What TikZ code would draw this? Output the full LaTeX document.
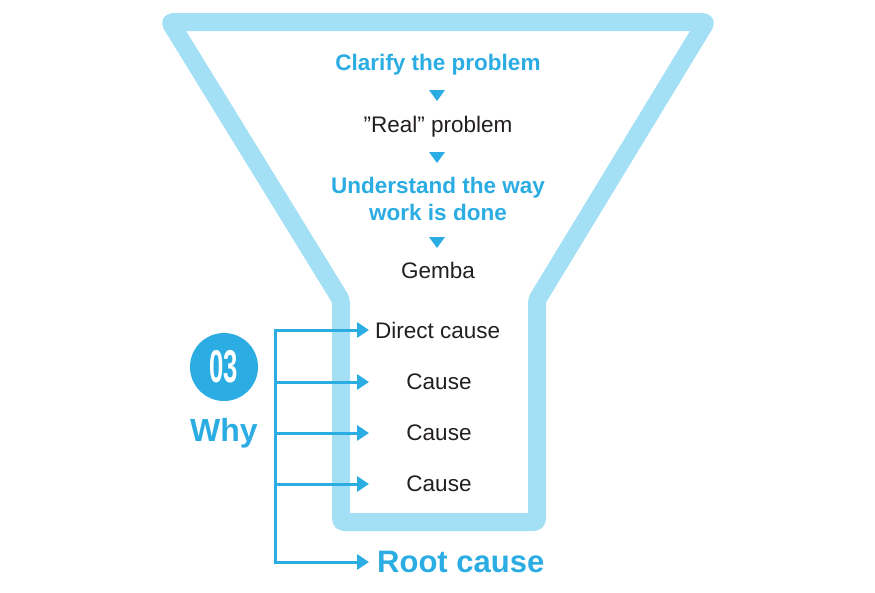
\documentclass[tikz,border=0pt]{standalone}
\usepackage{fontspec}
\usepackage{graphicx}
\setmainfont{Liberation Sans}
\usetikzlibrary{arrows.meta}
\definecolor{funnelblue}{HTML}{A3E0F6}
\definecolor{txtblue}{HTML}{2BACE2}
\definecolor{txtdark}{HTML}{231F20}
\tikzset{
  funnel/.style={draw=funnelblue, line width=18pt, line join=round, rounded corners=3pt},
  bluetxt/.style={text=txtblue, font=\fontsize{22.5}{27}\selectfont\bfseries, align=center, inner sep=0pt},
  darktxt/.style={text=txtdark, font=\fontsize{22.5}{27}\selectfont, inner sep=0pt},
  downtri/.style={fill=txtblue, draw=none},
  whyarrow/.style={draw=txtblue, line width=3pt, -{Triangle[length=12pt,width=15pt]}},
  whyline/.style={draw=txtblue, line width=3pt},
}
\begin{document}
\begin{tikzpicture}[x=1pt,y=-1pt]
\useasboundingbox (0,0) rectangle (875,592);
% funnel
\draw[funnel] (170,22) -- (706,22) -- (537,300) -- (537,522) -- (341,522) -- (341,300) -- cycle;
% top texts
\node[bluetxt] (clarify) at (438,65) {Clarify the problem};
\node[darktxt] (real) at (438,127) {\char"201D Real\char"201D{} problem};
\node[bluetxt] (understand) at (438,199) {Understand the way\\work is done};
\node[darktxt] (gemba) at (438,270) {Gemba};
% triangles
\foreach \ty [count=\i] in {95,157,242} {
  \fill[downtri] (429,\ty-5) -- (445,\ty-5) -- (437,\ty+6) -- cycle;
}
% causes
\node[darktxt, anchor=west] (direct) at (375,330) {Direct cause};
\node[darktxt] (c1) at (439,382) {Cause};
\node[darktxt] (c2) at (439,433) {Cause};
\node[darktxt] (c3) at (439,484) {Cause};
\node[bluetxt, font=\fontsize{31}{33}\selectfont\bfseries, anchor=west] (root) at (377,562) {Root cause};
% circle 03 and Why
\node[circle, fill=txtblue, minimum size=68pt, inner sep=0pt, text=white,
      font=\fontsize{46}{46}\selectfont\bfseries] (num) at (224,367) {\scalebox{0.56}[1]{03}};
\node[bluetxt, font=\fontsize{32}{33}\selectfont\bfseries] (why) at (224,433) {Why};
% bracket
\coordinate (btop) at (275,330);
\coordinate (bbot) at (275,562);
\coordinate (b1) at (275,382);
\coordinate (b2) at (275,433);
\coordinate (b3) at (275,484);
\coordinate (e0) at (369,330);
\coordinate (e1) at (369,382);
\coordinate (e2) at (369,433);
\coordinate (e3) at (369,484);
\coordinate (e4) at (369,562);
\draw[whyline, line cap=rect] (btop) -- (bbot);
\draw[whyarrow] (btop) -- (e0);
\draw[whyarrow] (b1) -- (e1);
\draw[whyarrow] (b2) -- (e2);
\draw[whyarrow] (b3) -- (e3);
\draw[whyarrow] (bbot) -- (e4);
\end{tikzpicture}
\end{document}
